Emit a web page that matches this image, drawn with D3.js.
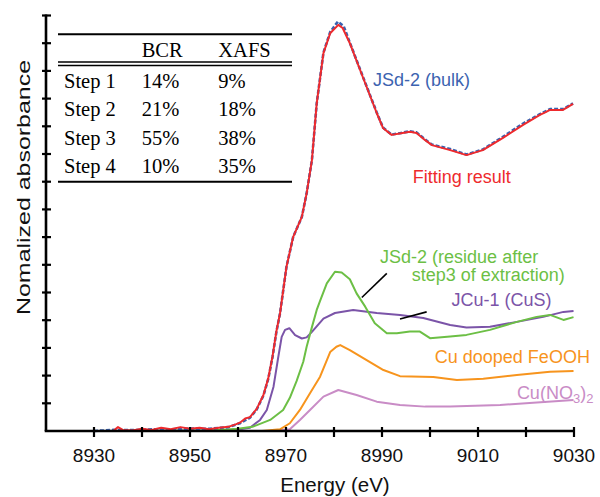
<!DOCTYPE html>
<html>
<head>
<meta charset="utf-8">
<script src="https://cdn.jsdelivr.net/npm/d3@7"></script>
<style>
  body { margin: 0; background: #fff; }
  svg { display: block; }
</style>
</head>
<body>
<svg id="chart" width="600" height="497"></svg>
<script>
// energy (eV) and normalized absorbance for each spectrum
let bulkE = [8930, 8934, 8938, 8942, 8946, 8950, 8954, 8958, 8960.4, 8962.5, 8963.9, 8965.3, 8966.3, 8967.2, 8968, 8968.75, 8970.1, 8971.5, 8973.3, 8974.3, 8975.4, 8976.4, 8977.8, 8979.2, 8980.8, 8982, 8983.3, 8986, 8988.9, 8990.2, 8992, 8994, 8995.8, 8997.2, 8999, 9000.4, 9004.2, 9007.6, 9011, 9015.2, 9019.4, 9022.9, 9025, 9027.7, 9029.8]
let bulkY = [0, 0.004, 0.003, 0.006, 0.006, 0.009, 0.008, 0.014, 0.028, 0.048, 0.078, 0.128, 0.188, 0.268, 0.358, 0.424, 0.593, 0.701, 0.773, 0.858, 0.978, 1.183, 1.366, 1.44, 1.478, 1.462, 1.402, 1.28, 1.15, 1.096, 1.07, 1.076, 1.082, 1.078, 1.052, 1.034, 1.018, 0.998, 1.016, 1.062, 1.11, 1.144, 1.162, 1.162, 1.183]

let fitE = [8934, 8935, 8936, 8938, 8940, 8942, 8944, 8946, 8948, 8950, 8952, 8954, 8956, 8958, 8959.5, 8960.4, 8961.5, 8962.5, 8963.9, 8965.3, 8966.3, 8967.2, 8968, 8968.75, 8970.1, 8971.5, 8973.3, 8974.3, 8975.4, 8976.4, 8977.8, 8979.2, 8980.9, 8981.8, 8983.3, 8986, 8988.9, 8990.2, 8992, 8994, 8995.8, 8997.2, 8999, 9000.4, 9004.2, 9007.6, 9011, 9015.2, 9019.4, 9022.9, 9024, 9025, 9027.7, 9029.8]
let fitY = [0, 0.014, 0.004, 0.002, 0.008, 0.004, 0.012, 0.006, 0.014, 0.008, 0.012, 0.006, 0.012, 0.015, 0.024, 0.03, 0.045, 0.05, 0.08, 0.13, 0.19, 0.27, 0.36, 0.424, 0.593, 0.701, 0.773, 0.858, 0.978, 1.183, 1.364, 1.436, 1.466, 1.455, 1.4, 1.278, 1.148, 1.094, 1.069, 1.075, 1.08, 1.076, 1.05, 1.032, 1.014, 0.996, 1.014, 1.058, 1.105, 1.141, 1.15, 1.159, 1.159, 1.181]

let residueE = [8930, 8950, 8955, 8960, 8963, 8966.7, 8969.4, 8970.8, 8972.2, 8973.6, 8974.3, 8975.4, 8976.4, 8977.1, 8978.5, 8980.2, 8981.6, 8983.3, 8984.7, 8986.5, 8988.5, 8991, 8993.1, 8995.8, 8997.9, 9000, 9004.2, 9007.6, 9012.5, 9018.1, 9022.2, 9025, 9027.8, 9029.9]
let residueY = [0, 0.002, 0.003, 0.008, 0.015, 0.04, 0.076, 0.12, 0.18, 0.25, 0.304, 0.375, 0.437, 0.47, 0.533, 0.575, 0.572, 0.548, 0.497, 0.449, 0.389, 0.353, 0.353, 0.359, 0.359, 0.335, 0.341, 0.347, 0.365, 0.394, 0.412, 0.419, 0.401, 0.411]

let cusE = [8930, 8950, 8958, 8960.4, 8962.5, 8964.6, 8966, 8967.4, 8968.4, 8969.1, 8969.8, 8970.7, 8971.9, 8973.3, 8974.3, 8975.4, 8977.8, 8980.2, 8984, 8988.9, 8993.75, 8998.6, 9004.2, 9007.6, 9012.5, 9018.1, 9023.6, 9027.8, 9029.9]
let cusY = [0, 0.002, 0.003, 0.006, 0.012, 0.04, 0.076, 0.16, 0.268, 0.34, 0.365, 0.371, 0.346, 0.334, 0.338, 0.358, 0.406, 0.426, 0.437, 0.426, 0.419, 0.408, 0.383, 0.374, 0.376, 0.394, 0.412, 0.43, 0.433]

let feoohE = [8930, 8965, 8968.75, 8970.8, 8972.9, 8975, 8977.1, 8979.2, 8980.5, 8981.3, 8983.3, 8986.8, 8990.3, 8993.75, 9000.7, 9005.6, 9011.1, 9018.1, 9025, 9029.9]
let feoohY = [0, 0, 0.006, 0.028, 0.076, 0.136, 0.196, 0.285, 0.304, 0.31, 0.292, 0.256, 0.22, 0.198, 0.195, 0.184, 0.189, 0.202, 0.214, 0.217]

let nitrateE = [8930, 8967, 8970.8, 8972.9, 8975, 8977.8, 8980.9, 8984.7, 8988.9, 8993.75, 8999, 9004.2, 9014.6, 9021.5, 9029.9]
let nitrateY = [0, 0, 0.006, 0.04, 0.076, 0.124, 0.148, 0.13, 0.106, 0.094, 0.088, 0.088, 0.094, 0.102, 0.112]

// axis ticks
let xTickValues = [8930, 8940, 8950, 8960, 8970, 8980, 8990, 9000, 9010, 9020, 9030]
let xTickLabels = ["8930", "", "8950", "", "8970", "", "8990", "", "9010", "", "9030"]
let yTickValues = [0.1, 0.2, 0.3, 0.4, 0.5, 0.6, 0.7, 0.8, 0.9, 1.0, 1.1, 1.2, 1.3, 1.4, 1.5]

// inset table
let tableHead = ["", "BCR", "XAFS"]
let tableSteps = ["Step 1", "Step 2", "Step 3", "Step 4"]
let tableBCR = ["14%", "21%", "55%", "10%"]
let tableXAFS = ["9%", "18%", "38%", "35%"]

let svg = d3.select("#chart")
let plotLeft = 46, plotRight = 574, plotTop = 15.5, plotBottom = 431

let x = d3.scaleLinear().domain([8920, 9030]).range([plotLeft, plotRight])
let y = d3.scaleLinear().domain([0, 1.5]).range([plotBottom, plotTop])

let line = d3.line()
    .x(d => x(d[0]))
    .y(d => y(d[1]))

function pairs(e, v) {
    return e.map((d, i) => [d, v[i]])
}

//draw spectra
let series = [
    { e: nitrateE, v: nitrateY, color: "#c98cc6", dash: null },
    { e: feoohE, v: feoohY, color: "#f7941d", dash: null },
    { e: cusE, v: cusY, color: "#7b54a8", dash: null },
    { e: residueE, v: residueY, color: "#6cbf45", dash: null },
    { e: bulkE, v: bulkY, color: "#3a62b0", dash: "4,2" },
    { e: fitE, v: fitY, color: "#ee2a2d", dash: null }
]
svg.append("g").selectAll("path")
    .data(series)
    .join("path")
    .attr("d", d => line(pairs(d.e, d.v)))
    .attr("fill", "none")
    .attr("stroke", d => d.color)
    .attr("stroke-width", d => d.dash ? 2.6 : 2)
    .attr("stroke-dasharray", d => d.dash)
    .attr("stroke-linejoin", "round")

//x axis
let gx = svg.append("g").attr("transform", "translate(0," + plotBottom + ")")
gx.append("line").attr("x1", plotLeft - 1.3).attr("x2", plotRight + 1).attr("stroke", "#000").attr("stroke-width", 2.6)
gx.selectAll("line.xt").data(xTickValues).join("line")
    .attr("class", "xt")
    .attr("x1", d => x(d)).attr("x2", d => x(d))
    .attr("y1", -4).attr("y2", 6)
    .attr("stroke", "#000").attr("stroke-width", 2.2)
gx.selectAll("text").data(xTickValues).join("text")
    .attr("x", d => x(d))
    .attr("y", 31)
    .attr("text-anchor", "middle")
    .style("font-family", "Liberation Sans, Arial, sans-serif")
    .style("font-size", "19px")
    .attr("fill", "#111")
    .text((d, i) => xTickLabels[i])

//y axis
let gy = svg.append("g").attr("transform", "translate(" + plotLeft + ",0)")
gy.append("line").attr("y1", plotTop - 1).attr("y2", plotBottom).attr("stroke", "#000").attr("stroke-width", 2.6)
gy.selectAll("line.yt").data(yTickValues).join("line")
    .attr("class", "yt")
    .attr("x1", -4).attr("x2", 5)
    .attr("y1", d => y(d)).attr("y2", d => y(d))
    .attr("stroke", "#000").attr("stroke-width", 2.2)

//axis titles
svg.append("text")
    .attr("x", 335).attr("y", 492)
    .attr("text-anchor", "middle")
    .style("font-family", "Liberation Sans, Arial, sans-serif")
    .style("font-size", "20.5px")
    .attr("fill", "#111")
    .text("Energy (eV)")
svg.append("text")
    .attr("transform", "translate(30,187.5) rotate(-90)")
    .attr("text-anchor", "middle")
    .attr("textLength", 255)
    .attr("lengthAdjust", "spacingAndGlyphs")
    .style("font-family", "Liberation Sans, Arial, sans-serif")
    .style("font-size", "18.5px")
    .attr("fill", "#111")
    .text("Nomalized absorbance")

//curve labels, placed in data units
let sans = "Liberation Sans, Arial, sans-serif"
let labels = [
    { e: 8988.1, v: 1.247, t: "JSd-2 (bulk)", color: "#3c63b0" },
    { e: 8996.4, v: 0.895, t: "Fitting result", color: "#ee2a2d" },
    { e: 8989.6, v: 0.606, t: "JSd-2 (residue after", color: "#6cbf45" },
    { e: 8996.2, v: 0.541, t: "step3 of extraction)", color: "#6cbf45" },
    { e: 9004.5, v: 0.451, t: "JCu-1 (CuS)", color: "#7b54a8" },
    { e: 9001.0, v: 0.245, t: "Cu dooped FeOOH", color: "#f7941d" }
]
svg.append("g").selectAll("text")
    .data(labels)
    .join("text")
    .attr("x", d => x(d.e))
    .attr("y", d => y(d.v))
    .style("font-family", sans)
    .style("font-size", "18px")
    .attr("fill", d => d.color)
    .text(d => d.t)

let nitrate = svg.append("text")
    .attr("x", x(9018.1)).attr("y", y(0.115))
    .style("font-family", sans)
    .style("font-size", "18px")
    .attr("fill", "#c98cc6")
nitrate.append("tspan").text("Cu(NO")
nitrate.append("tspan").attr("dy", 4).style("font-size", "13px").text("3")
nitrate.append("tspan").attr("dy", -4).text(")")
nitrate.append("tspan").attr("dy", 4).style("font-size", "13px").text("2")

//leader lines
let leaders = [
    [[8991.0, 0.569], [8985.8, 0.482]],
    [[8999.3, 0.430], [8993.75, 0.404]]
]
svg.append("g").selectAll("path")
    .data(leaders)
    .join("path")
    .attr("d", d => line(d))
    .attr("stroke", "#000")
    .attr("stroke-width", 1.6)

//inset table
let serif = "Liberation Serif, Times New Roman, serif"
let gt = svg.append("g")
gt.append("rect").attr("x", 58).attr("y", 34).attr("width", 234).attr("height", 148).attr("fill", "#fff")
gt.append("line").attr("x1", 58).attr("x2", 292).attr("y1", 34.3).attr("y2", 34.3).attr("stroke", "#000").attr("stroke-width", 2)
gt.append("line").attr("x1", 58).attr("x2", 292).attr("y1", 62).attr("y2", 62).attr("stroke", "#000").attr("stroke-width", 1.6)
gt.append("line").attr("x1", 58).attr("x2", 292).attr("y1", 65.5).attr("y2", 65.5).attr("stroke", "#000").attr("stroke-width", 1.6)
gt.append("line").attr("x1", 58).attr("x2", 292).attr("y1", 181.7).attr("y2", 181.7).attr("stroke", "#000").attr("stroke-width", 2)

let colX = [64, 141.7, 218.3]
gt.selectAll("text.head").data(tableHead).join("text")
    .attr("class", "head")
    .attr("x", (d, i) => colX[i]).attr("y", 57.3)
    .style("font-family", serif).style("font-size", "20.5px")
    .text(d => d)
let rowY = [87.5, 116, 144.5, 173]
let rows = tableSteps.map((d, i) => [d, tableBCR[i], tableXAFS[i]])
rows.forEach(function(r, i) {
    gt.selectAll("text.r" + i).data(r).join("text")
        .attr("class", "r" + i)
        .attr("x", (d, j) => colX[j]).attr("y", rowY[i])
        .style("font-family", serif).style("font-size", "20.5px")
        .text(d => d)
})
</script>
</body>
</html>
